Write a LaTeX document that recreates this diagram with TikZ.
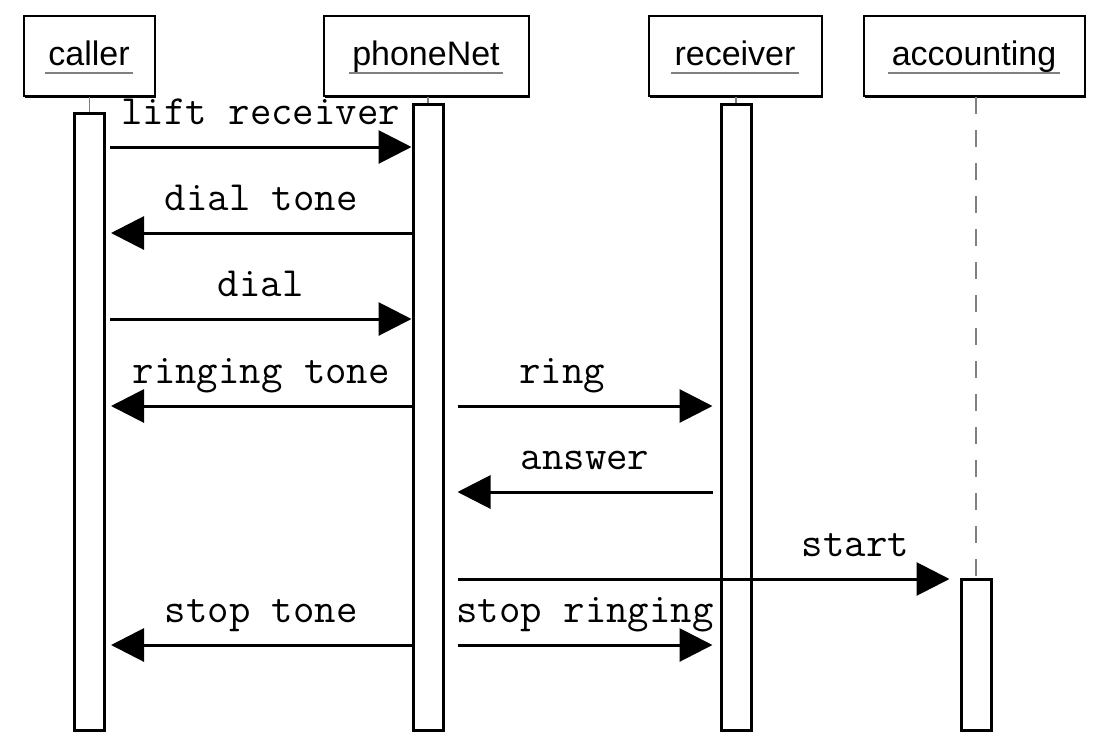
\documentclass[tikz,border=0pt]{standalone}
\usepackage{fontspec}
\setmainfont{Liberation Sans}
\usetikzlibrary{arrows.meta,shadows}

\begin{document}
\begin{tikzpicture}[x=0.5pt,y=-0.5pt]
\useasboundingbox (0,0) rectangle (1110,756);

\tikzstyle{obj}=[draw,line width=1pt,fill=white,minimum height=40pt,inner sep=0pt,
  drop shadow={shadow xshift=0.8pt,shadow yshift=-0.8pt,opacity=1,fill=black}]
\tikzstyle{objname}=[font=\fontsize{17}{20}\selectfont,anchor=base,inner sep=1.5pt]
\tikzstyle{uline}=[draw=gray,line width=1pt]
\tikzstyle{bar}=[draw,line width=1.5pt,fill=white,minimum width=15pt,inner sep=0pt]
\tikzstyle{stub}=[draw=gray,line width=0.6pt]
\tikzstyle{msg}=[line width=1.5pt,-{Triangle[length=16.5pt,width=16.5pt]}]
\tikzstyle{lbl}=[font=\ttfamily\fontsize{20.8}{24}\selectfont,anchor=base,inner sep=0pt,yshift=11.5pt]

% objects
\node[obj,minimum width=65.5pt] (caller) at (89,56) {};
\node[obj,minimum width=102.5pt] (net) at (426,56) {};
\node[obj,minimum width=86.5pt] (recv) at (735,56) {};
\node[obj,minimum width=110.5pt] (acct) at (974,56) {};

\node[objname] (callerName) at ([yshift=-4.5pt]caller.center) {caller};
\node[objname] (netName) at ([yshift=-4.5pt]net.center) {phoneNet};
\node[objname] (recvName) at ([yshift=-4.5pt]recv.center) {receiver};
\node[objname] (acctName) at ([yshift=-4.5pt]acct.center) {accounting};

\draw[uline] ([yshift=-4pt]callerName.base west) -- ([yshift=-4pt]callerName.base east);
\draw[uline] ([yshift=-4pt]netName.base west) -- ([yshift=-4pt]netName.base east);
\draw[uline] ([yshift=-4pt]recvName.base west) -- ([yshift=-4pt]recvName.base east);
\draw[uline] ([yshift=-4pt]acctName.base west) -- ([yshift=-4pt]acctName.base east);

% activations
\node[bar,minimum height=308.5pt] (callerBar) at (89.5,422) {};
\node[bar,minimum height=313pt] (netBar) at (428,417.5) {};
\node[bar,minimum height=313pt] (recvBar) at (736,417.5) {};
\node[bar,minimum height=75.5pt] (acctBar) at (976,655) {};

\draw[stub] (callerBar.north |- caller.south) -- (callerBar.north);
\draw[stub] (netBar.north |- net.south) -- (netBar.north);
\draw[stub] (recvBar.north |- recv.south) -- (recvBar.north);
\draw[gray,line width=1pt,dash pattern=on 8.5pt off 8pt] (acctBar.north |- acct.south) -- (acctBar.north);

% messages
\coordinate (m1) at (0,147);
\coordinate (m2) at (0,233);
\coordinate (m3) at (0,319);
\coordinate (m4) at (0,406);
\coordinate (m5) at (0,492);
\coordinate (m6) at (0,579);
\coordinate (m7) at (0,645);

\draw[msg] ([xshift=2pt]callerBar.east |- m1) -- (netBar.west |- m1) node[lbl,midway] {lift receiver};
\draw[msg] (netBar.west |- m2) -- ([xshift=2.5pt]callerBar.east |- m2) node[lbl,midway] {dial tone};
\draw[msg] ([xshift=2pt]callerBar.east |- m3) -- (netBar.west |- m3) node[lbl,midway] {dial};
\draw[msg] (netBar.west |- m4) -- ([xshift=2.5pt]callerBar.east |- m4) node[lbl,midway] {ringing tone};
\draw[msg] ([xshift=6.5pt]netBar.east |- m4) -- ([xshift=-3.5pt]recvBar.west |- m4) node[lbl,midway,xshift=-11.5pt] {ring};
\draw[msg] ([xshift=-3.5pt]recvBar.west |- m5) -- ([xshift=6.5pt]netBar.east |- m5) node[lbl,midway] {answer};
\draw[msg] ([xshift=6.5pt]netBar.east |- m6) -- ([xshift=-5pt]acctBar.west |- m6) node[lbl,pos=1,anchor=base east,xshift=-19.5pt] {start};
\draw[msg] (netBar.west |- m7) -- ([xshift=2.5pt]callerBar.east |- m7) node[lbl,midway] {stop tone};
\draw[msg] ([xshift=6.5pt]netBar.east |- m7) -- ([xshift=-3.5pt]recvBar.west |- m7) node[lbl,midway] {stop ringing};
\end{tikzpicture}
\end{document}
